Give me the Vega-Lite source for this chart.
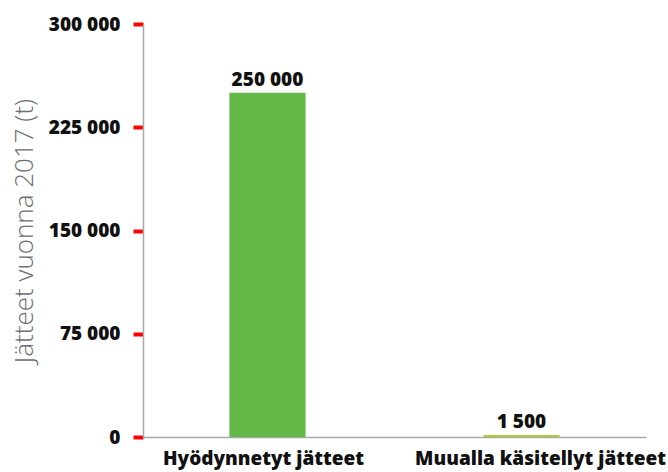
{
  "$schema": "https://vega.github.io/schema/vega-lite/v6.json",
  "width": 503,
  "height": 413,
  "autosize": "none",
  "padding": {"left": 143, "top": 24, "right": 22, "bottom": 35},
  "config": {
    "locale": {"number": {"decimal": ",", "thousands": " ", "grouping": [3], "currency": ["", " €"]}},
    "view": {"stroke": null},
    "font": "Open Sans"
  },
  "data": {
    "values": [
      {"kategoria": "Hyödynnetyt jätteet", "maara": 250000},
      {"kategoria": "Muualla käsitellyt jätteet", "maara": 1500}
    ]
  },
  "encoding": {
    "x": {
      "field": "kategoria",
      "type": "nominal",
      "sort": null,
      "scale": {"paddingInner": 0.7, "paddingOuter": 0.34},
      "axis": {
        "title": null,
        "labelAngle": 0,
        "labelFont": "Open Sans",
        "labelFontWeight": 800,
        "labelFontSize": 19,
        "labelColor": "#111111",
        "labelPadding": 12,
        "labelLimit": 0,
        "labelOffset": {"condition": {"test": "datum.label == 'Muualla käsitellyt jätteet'", "value": 19}, "value": -4},
        "ticks": false,
        "domainColor": "#a7a9ac",
        "domainWidth": 1.5
      }
    },
    "y": {
      "field": "maara",
      "type": "quantitative",
      "scale": {"domain": [0, 300000], "nice": false},
      "axis": {
        "values": [0, 75000, 150000, 225000, 300000],
        "format": ",.0f",
        "grid": false,
        "title": "Jätteet vuonna 2017 (t)",
        "titleFont": "Open Sans",
        "titleFontWeight": 300,
        "titleFontSize": 26,
        "titleColor": "#6d6e71",
        "titlePadding": 11,
        "labelFont": "Open Sans",
        "labelFontWeight": 800,
        "labelFontSize": 19,
        "labelColor": "#111111",
        "labelPadding": 13,
        "ticks": true,
        "tickSize": 10,
        "tickColor": "#ff0000",
        "tickWidth": 4,
        "tickOpacity": 1,
        "domainColor": "#a7a9ac",
        "domainWidth": 1.5
      }
    }
  },
  "layer": [
    {
      "mark": {"type": "bar"},
      "encoding": {
        "color": {
          "field": "kategoria",
          "type": "nominal",
          "scale": {"domain": ["Hyödynnetyt jätteet", "Muualla käsitellyt jätteet"], "range": ["#63ba48", "#b1cd35"]},
          "legend": null
        }
      }
    },
    {
      "mark": {"type": "text", "baseline": "bottom", "dy": -3, "font": "Open Sans", "fontWeight": 800, "fontSize": 19, "color": "#111111"},
      "encoding": {
        "text": {"field": "maara", "type": "quantitative", "format": ",.0f"}
      }
    }
  ]
}
